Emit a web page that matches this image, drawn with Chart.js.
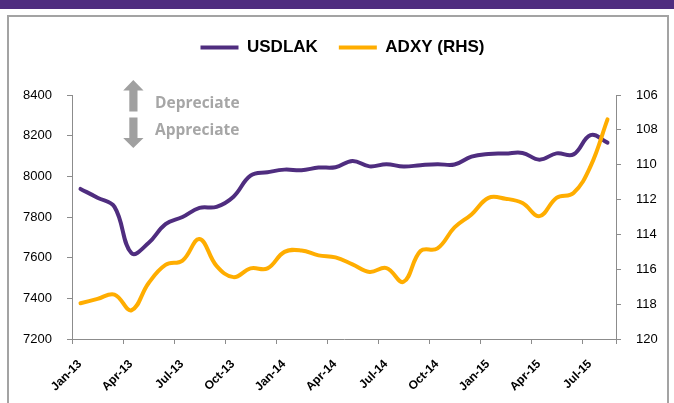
<!DOCTYPE html>
<html>
<head>
<meta charset="utf-8">
<script src="https://cdn.jsdelivr.net/npm/chart.js@4/dist/chart.umd.min.js"></script>
<style>
  html, body { margin: 0; padding: 0; background: #fff; }
  body { width: 674px; height: 403px; position: relative; overflow: hidden; }
  .band { position: absolute; left: 0; top: 0; width: 674px; height: 9px; background: #4f2d7f; }
  .frame { position: absolute; left: 7px; top: 15px; width: 658px; height: 400px; border: 2px solid #a3a3a3; }
  #chart { position: absolute; left: 0; top: 0; }
</style>
</head>
<body>
<div class="band"></div>
<div class="frame"></div>
<canvas id="chart" width="674" height="403"></canvas>
<script>
// monthly readings, Jan-13 .. Aug-15
const USDLAK = [7938, 7895, 7850, 7622, 7672, 7765, 7800, 7845, 7850, 7900, 8003, 8020,
                8033, 8030, 8043, 8045, 8076, 8049, 8060, 8048, 8055, 8060, 8058, 8097,
                8110, 8112, 8115, 8082, 8113, 8108, 8203, 8166];
const ADXY = [117.95, 117.7, 117.45, 118.35, 116.8, 115.75, 115.5, 114.26, 115.8, 116.45, 115.95, 115.95,
              115.0, 114.92, 115.2, 115.32, 115.72, 116.15, 115.93, 116.72, 114.95, 114.8, 113.6, 112.85,
              111.9, 111.95, 112.2, 112.95, 111.9, 111.62, 110.1, 107.4];
const X_LABELS = ['Jan-13', 'Apr-13', 'Jul-13', 'Oct-13', 'Jan-14', 'Apr-14', 'Jul-14',
                  'Oct-14', 'Jan-15', 'Apr-15', 'Jul-15'];
const LEFT_TICKS = { min: 7200, max: 8400, step: 200 };
const RIGHT_TICKS = { min: 106, max: 120, step: 2 };

const PURPLE = '#4f2d7f';
const ORANGE = '#ffad00';
const AXIS = '#8c8c8c';

Chart.defaults.font.family = '"Liberation Sans", Arial, sans-serif';
Chart.defaults.color = '#000';

// x positions: middle of each month, in months from Jan-13
const toPoints = (arr) => arr.map((v, i) => ({ x: i + 0.5, y: v }));
const xTickValues = X_LABELS.map((_, i) => i * 3).concat([USDLAK.length]);

// gray arrows + depreciate / appreciate note
const notePlugin = {
  id: 'note',
  afterDraw(chart) {
    const ctx = chart.ctx;
    ctx.save();
    ctx.fillStyle = '#a0a0a0';
    // up arrow
    ctx.beginPath();
    ctx.moveTo(133.3, 80);
    ctx.lineTo(143.5, 90.5);
    ctx.lineTo(137.5, 90.5);
    ctx.lineTo(137.5, 111.5);
    ctx.lineTo(129.3, 111.5);
    ctx.lineTo(129.3, 90.5);
    ctx.lineTo(123.2, 90.5);
    ctx.closePath();
    ctx.fill();
    // down arrow
    ctx.beginPath();
    ctx.moveTo(129.3, 117.5);
    ctx.lineTo(137.5, 117.5);
    ctx.lineTo(137.5, 138);
    ctx.lineTo(143.5, 138);
    ctx.lineTo(133.3, 148);
    ctx.lineTo(123.2, 138);
    ctx.lineTo(129.3, 138);
    ctx.closePath();
    ctx.fill();

    ctx.fillStyle = '#a6a6a6';
    ctx.font = 'bold 15.5px "Open Sans", sans-serif';
    ctx.textBaseline = 'alphabetic';
    ctx.textAlign = 'left';
    ctx.fillText('Depreciate', 155, 107.5);
    ctx.fillText('Appreciate', 155, 134.5);
    ctx.restore();
  }
};

new Chart(document.getElementById('chart'), {
  type: 'line',
  data: {
    datasets: [
      {
        label: 'USDLAK',
        data: toPoints(USDLAK),
        yAxisID: 'y',
        borderColor: PURPLE,
        backgroundColor: PURPLE,
        borderWidth: 4,
        pointRadius: 0,
        tension: 0.4,
        borderCapStyle: 'round',
        borderJoinStyle: 'round',
        order: 1
      },
      {
        label: 'ADXY (RHS)',
        data: toPoints(ADXY),
        yAxisID: 'y2',
        borderColor: ORANGE,
        backgroundColor: ORANGE,
        borderWidth: 4,
        pointRadius: 0,
        tension: 0.4,
        borderCapStyle: 'round',
        borderJoinStyle: 'round',
        order: 0
      }
    ]
  },
  options: {
    responsive: false,
    devicePixelRatio: 1,
    animation: false,
    layout: { padding: { top: 18, left: 11, right: 0, bottom: 0 } },
    plugins: {
      legend: {
        position: 'top',
        labels: {
          usePointStyle: true,
          pointStyle: 'line',
          pointStyleWidth: 38,
          padding: 21,
          color: '#000',
          font: { size: 17, weight: 'bold' },
          sort: (a, b) => a.datasetIndex - b.datasetIndex
        }
      },
      // empty title used as a spacer between legend and plot
      title: {
        display: true,
        text: '',
        weight: 500,
        font: { size: 1, lineHeight: 1 },
        padding: { top: 0, bottom: 28 }
      },
      tooltip: { enabled: false }
    },
    scales: {
      x: {
        type: 'linear',
        position: 'bottom',
        min: 0,
        max: USDLAK.length,
        afterBuildTicks: (scale) => {
          scale.ticks = xTickValues.map(v => ({ value: v }));
        },
        afterFit: (scale) => { scale.height = 64; },
        ticks: {
          autoSkip: false,
          maxRotation: 45,
          minRotation: 45,
          padding: 13,
          labelOffset: 8,
          color: '#000',
          font: { size: 12, weight: 'bold' },
          callback: (v) => (v % 3 === 0 && X_LABELS[v / 3]) ? X_LABELS[v / 3] : ''
        },
        grid: { drawOnChartArea: false, tickLength: 5, color: AXIS },
        border: { display: true, color: AXIS }
      },
      y: {
        position: 'left',
        min: LEFT_TICKS.min,
        max: LEFT_TICKS.max,
        afterFit: (scale) => { scale.width = 61; },
        ticks: {
          stepSize: LEFT_TICKS.step, padding: 15, color: '#000', font: { size: 13 },
          callback: (v) => String(v)
        },
        grid: { drawOnChartArea: false, tickLength: 5, color: AXIS },
        border: { display: true, color: AXIS }
      },
      y2: {
        position: 'right',
        reverse: true,
        min: RIGHT_TICKS.min,
        max: RIGHT_TICKS.max,
        afterFit: (scale) => { scale.width = 58; },
        ticks: {
          stepSize: RIGHT_TICKS.step, padding: 15, color: '#000', font: { size: 13 },
          callback: (v) => String(v)
        },
        grid: { drawOnChartArea: false, tickLength: 5, color: AXIS },
        border: { display: true, color: AXIS }
      }
    }
  },
  plugins: [notePlugin]
});
</script>
</body>
</html>
